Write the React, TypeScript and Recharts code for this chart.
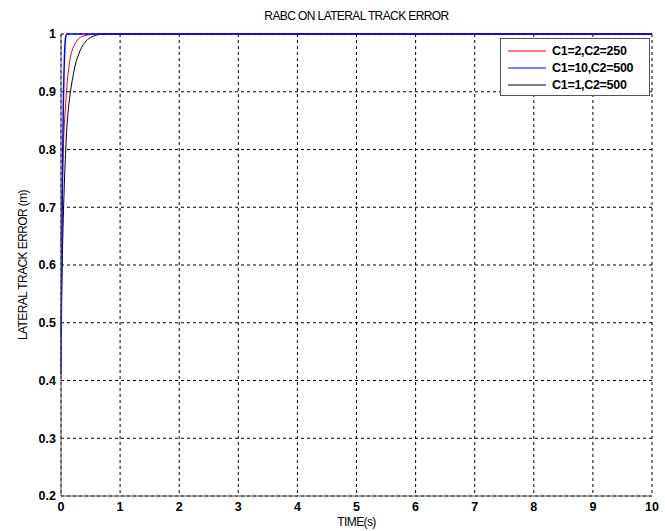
import React from 'react';
import { LineChart, Line, XAxis, YAxis, CartesianGrid } from 'recharts';

const xTicks = [0, 1, 2, 3, 4, 5, 6, 7, 8, 9, 10];
const yTicks = [0.2, 0.3, 0.4, 0.5, 0.6, 0.7, 0.8, 0.9, 1];

// C1=2,C2=250 (red)
const redTime = [0, 0.01, 0.03, 0.05, 0.08, 0.1, 0.13, 0.16, 0.2, 0.25, 0.3, 0.4, 0.5, 0.6, 10];
const redValue = [0.63, 0.69, 0.77, 0.83, 0.88, 0.91, 0.94, 0.96, 0.975, 0.985, 0.992, 0.997, 0.999, 1, 1];

// C1=10,C2=500 (blue)
const blueTime = [0, 0.01, 0.02, 0.03, 0.04, 0.05, 0.06, 0.07, 0.08, 0.1, 10];
const blueValue = [0.41, 0.58, 0.7, 0.8, 0.88, 0.93, 0.965, 0.985, 0.995, 1, 1];

// C1=1,C2=500 (black)
const blackTime = [0, 0.02, 0.05, 0.08, 0.1, 0.13, 0.16, 0.2, 0.25, 0.3, 0.35, 0.4, 0.5, 0.6, 0.7, 10];
const blackValue = [0.48, 0.6, 0.72, 0.8, 0.84, 0.875, 0.9, 0.925, 0.95, 0.965, 0.977, 0.985, 0.994, 0.998, 1, 1];

const toPoints = (t: number[], v: number[]) => t.map((x, i) => ({ t: x, v: v[i] }));

const legendItems = [
  { label: 'C1=2,C2=250', color: '#ff0000' },
  { label: 'C1=10,C2=500', color: '#0000ff' },
  { label: 'C1=1,C2=500', color: '#000000' },
];

const font = '"Liberation Sans", Arial, sans-serif';
const labelStyle: React.CSSProperties = { fontFamily: font, fontSize: 12, letterSpacing: -0.6 };

const LegendBox: React.FC = () => (
  <div
    style={{
      position: 'absolute', left: 500, top: 38, width: 150, height: 58, boxSizing: 'border-box',
      background: '#fff', border: '1px solid #555', padding: '3px 0 0 7px',
    }}
  >
    {legendItems.map(item => (
      <div key={item.label} style={{ display: 'flex', alignItems: 'center', height: 17 }}>
        <svg width={38} height={4} style={{ marginRight: 6 }}>
          <line x1={0} y1={2} x2={38} y2={2} stroke={item.color} strokeWidth={1.2} />
        </svg>
        <span style={{ fontFamily: font, fontSize: 12.5, fontWeight: 'bold', color: '#000', letterSpacing: -0.3 }}>
          {item.label}
        </span>
      </div>
    ))}
  </div>
);

const App: React.FC = () => {
  const yFmt = (v: number) => (v === 1 ? '1' : v.toFixed(1));
  return (
    <div style={{ position: 'absolute', left: 0, top: 0, width: 665, height: 531, background: '#fff' }}>
      <div style={{ position: 'absolute', top: 9, left: 61, width: 591, textAlign: 'center', ...labelStyle }}>
        RABC ON LATERAL TRACK ERROR
      </div>
      <div style={{ position: 'absolute', top: 515, left: 61, width: 591, textAlign: 'center', ...labelStyle }}>
        TIME(s)
      </div>
      <div
        style={{
          position: 'absolute', left: 23, top: 265, transform: 'translate(-50%, -50%) rotate(-90deg)',
          whiteSpace: 'nowrap', ...labelStyle,
        }}
      >
        LATERAL TRACK ERROR (m)
      </div>
      <LineChart width={665} height={531} margin={{ top: 34, right: 13, left: 31, bottom: 15 }}>
        <CartesianGrid stroke="#000" strokeDasharray="3 3" strokeWidth={1} />
        <XAxis
          xAxisId={0}
          dataKey="t"
          type="number"
          domain={[0, 10]}
          ticks={xTicks}
          height={20}
          stroke="#555"
          tickSize={0}
          tickMargin={6}
          tick={{ fill: '#000', fontSize: 12.5, fontWeight: 'bold', fontFamily: font }}
        />
        <XAxis xAxisId="top" orientation="top" type="number" domain={[0, 10]} ticks={xTicks} tick={false} tickLine={false} stroke="#555" height={0} />
        <YAxis
          yAxisId={0}
          type="number"
          domain={[0.2, 1]}
          ticks={yTicks}
          width={30}
          stroke="#555"
          tickSize={0}
          tickMargin={5}
          tickFormatter={yFmt}
          tick={{ fill: '#000', fontSize: 12.5, fontWeight: 'bold', fontFamily: font }}
        />
        <YAxis yAxisId="right" orientation="right" type="number" domain={[0.2, 1]} ticks={yTicks} tick={false} tickLine={false} stroke="#555" width={0} />
        <Line data={toPoints(redTime, redValue)} dataKey="v" type="monotone" stroke="#ff0000" strokeWidth={1} dot={false} isAnimationActive={false} />
        <Line data={toPoints(blackTime, blackValue)} dataKey="v" type="monotone" stroke="#000000" strokeWidth={1} dot={false} isAnimationActive={false} />
        <Line data={toPoints(blueTime, blueValue)} dataKey="v" type="monotone" stroke="#0000ff" strokeWidth={1.5} dot={false} isAnimationActive={false} />
      </LineChart>
      <LegendBox />
    </div>
  );
};

export default App;
